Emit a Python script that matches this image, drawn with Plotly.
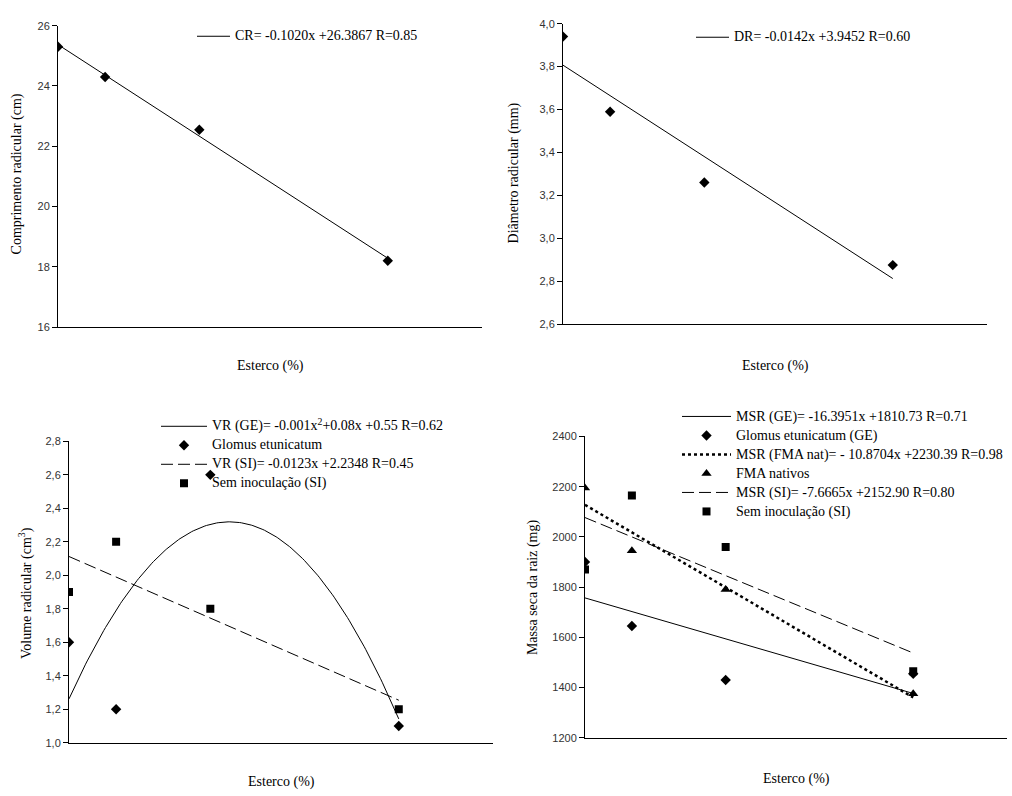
import numpy as np
import plotly.graph_objects as go

W, H = 1012, 796

# Data (x = Esterco %)
esterco = [10, 20, 40, 80]
cr = [25.3, 24.3, 22.55, 18.2]
dr = [3.94, 3.59, 3.26, 2.875]
vr_ge = [1.6, 1.2, 2.6, 1.1]
vr_si = [1.9, 2.2, 1.8, 1.2]
msr_ge = [1900, 1645, 1430, 1455]
msr_fma = [2195, 1945, 1790, 1375]
msr_si = [1870, 2165, 1960, 1465]

lab_cr = "CR= -0.1020x +26.3867 R=0.85"
lab_dr = "DR= -0.0142x +3.9452 R=0.60"
lab_vr_ge = "VR (GE)= -0.001x<sup>2</sup>+0.08x +0.55 R=0.62"
lab_vr_si = "VR (SI)= -0.0123x +2.2348 R=0.45"
lab_msr_ge = "MSR (GE)= -16.3951x +1810.73 R=0.71"
lab_msr_fma = "MSR (FMA nat)= - 10.8704x +2230.39 R=0.98"
lab_msr_si = "MSR (SI)= -7.6665x +2152.90 R=0.80"

SERIF = "Times New Roman, Liberation Serif, Tinos, DejaVu Serif, serif"
SANS = "Arial, Liberation Sans, sans-serif"
LEG_PX = 14
LONGDASH = "12px,5px"

fig = go.Figure()


def big(t):
    return '<span style="font-size:%dpx">%s</span>' % (LEG_PX, t)


def add_fit(x, y, deg, name, dash, width, xa, ya, legend):
    c = np.polyfit(x, y, deg)
    xs = np.linspace(min(x), max(x), 2 if deg == 1 else 200)
    fig.add_trace(go.Scatter(x=xs, y=np.polyval(c, xs), mode="lines", name=big(name),
                             line=dict(color="black", width=width, dash=dash),
                             xaxis=xa, yaxis=ya, legend=legend, hoverinfo="skip"))


def add_pts(x, y, symbol, size, name, xa, ya, legend, show=True):
    fig.add_trace(go.Scatter(x=x, y=y, mode="markers", name=big(name), showlegend=show,
                             marker=dict(color="black", symbol=symbol, size=size),
                             xaxis=xa, yaxis=ya, legend=legend))


# Panel 1
add_fit(esterco, cr, 1, lab_cr, "solid", 1, "x", "y", "legend")
add_pts(esterco, cr, "diamond", 8, "cr", "x", "y", "legend", show=False)
# Panel 2
add_fit(esterco, dr, 1, lab_dr, "solid", 1, "x2", "y2", "legend2")
add_pts(esterco, dr, "diamond", 8, "dr", "x2", "y2", "legend2", show=False)
# Panel 3
add_fit(esterco, vr_ge, 2, lab_vr_ge, "solid", 1, "x3", "y3", "legend3")
add_pts(esterco, vr_ge, "diamond", 8, "Glomus etunicatum", "x3", "y3", "legend3")
add_fit(esterco, vr_si, 1, lab_vr_si, LONGDASH, 1, "x3", "y3", "legend3")
add_pts(esterco, vr_si, "square", 8, "Sem inoculação (SI)", "x3", "y3", "legend3")
# Panel 4
add_fit(esterco, msr_ge, 1, lab_msr_ge, "solid", 1, "x4", "y4", "legend4")
add_pts(esterco, msr_ge, "diamond", 8, "Glomus etunicatum (GE)", "x4", "y4", "legend4")
add_fit(esterco, msr_fma, 1, lab_msr_fma, "dot", 2.5, "x4", "y4", "legend4")
add_pts(esterco, msr_fma, "triangle-up", 9, "FMA nativos", "x4", "y4", "legend4")
add_fit(esterco, msr_si, 1, lab_msr_si, LONGDASH, 1, "x4", "y4", "legend4")
add_pts(esterco, msr_si, "square", 8, "Sem inoculação (SI)", "x4", "y4", "legend4")


def xd(a, b):
    return [a / W, b / W]


def yd(top, bottom):
    return [1 - bottom / H, 1 - top / H]


xax = dict(range=[10, 100], showline=True, linecolor="black", linewidth=1,
           ticks="", showticklabels=False, showgrid=False, zeroline=False)


def yax(rng, dtick, fmt):
    return dict(range=rng, dtick=dtick, tick0=rng[0], tickformat=fmt, showline=True,
                linecolor="black", linewidth=1, ticks="outside", ticklen=5,
                tickcolor="black", showgrid=False, zeroline=False,
                tickfont=dict(family=SANS, size=11, color="#333"))


def leg(px, py, w):
    return dict(x=px / W, y=1 - py / H, xanchor="left", yanchor="top",
                bgcolor="rgba(0,0,0,0)", font=dict(family=SERIF, size=10.5, color="black"),
                itemwidth=w, tracegroupgap=0)


fig.update_layout(
    width=W, height=H, margin=dict(l=0, r=0, t=0, b=0),
    paper_bgcolor="white", plot_bgcolor="white", separators=",.",
    showlegend=True,
    xaxis=dict(xax, domain=xd(58, 482), anchor="y"),
    yaxis=dict(yax([16, 26], 2, "d"), domain=yd(20, 326), anchor="x"),
    xaxis2=dict(xax, domain=xd(563, 987), anchor="y2"),
    yaxis2=dict(yax([2.6, 4.0], 0.2, ".1f"), domain=yd(18, 323), anchor="x2"),
    xaxis3=dict(xax, domain=xd(69, 493), anchor="y3"),
    yaxis3=dict(yax([1.0, 2.8], 0.2, ".1f"), domain=yd(442, 748), anchor="x3"),
    xaxis4=dict(xax, domain=xd(585, 1007), anchor="y4"),
    yaxis4=dict(yax([1200, 2400], 200, "d"), domain=yd(437, 743), anchor="x4"),
    legend=leg(192, 16, 33),
    legend2=leg(691, 17, 33),
    legend3=leg(156, 412, 46),
    legend4=leg(677, 402, 49),
)


def ann(text, x, y, angle=0, size=14):
    fig.add_annotation(text=text, x=x / W, y=1 - y / H, xref="paper", yref="paper",
                       showarrow=False, textangle=angle,
                       font=dict(family=SERIF, size=size, color="black"),
                       xanchor="center", yanchor="middle")


ann("Esterco (%)", 270, 366)
ann("Esterco (%)", 775, 366)
ann("Esterco (%)", 281, 788)
ann("Esterco (%)", 796, 785)
ann("Comprimento radicular (cm)", 17, 171, -90)
ann("Diâmetro radicular (mm)", 514, 170, -90)
ann("Volume radicular (cm<sup>3</sup>)", 25, 596, -90)
ann("Massa seca da raiz (mg)", 533, 590, -90)

fig.write_html("out.html")
